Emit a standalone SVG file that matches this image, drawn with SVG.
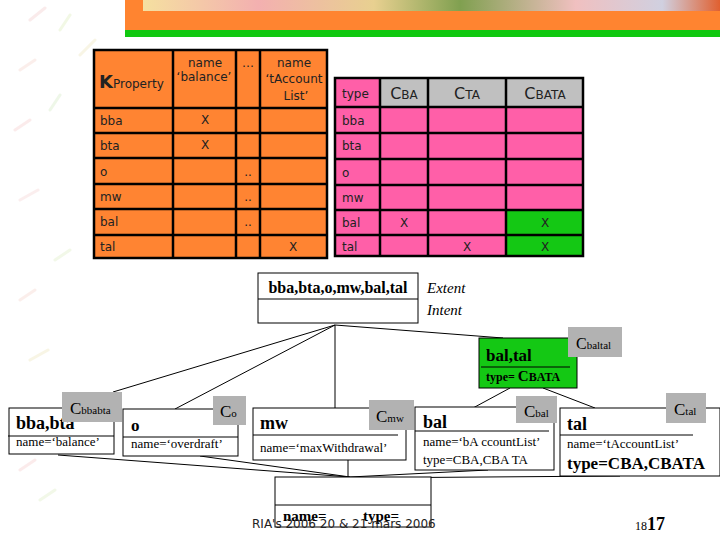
<svg xmlns="http://www.w3.org/2000/svg" width="720" height="540" viewBox="0 0 720 540">
<defs>
<linearGradient id="strip" x1="0" y1="0" x2="1" y2="0">
<stop offset="0" stop-color="#f5e0a0"/><stop offset="0.2" stop-color="#f3b0b0"/><stop offset="0.4" stop-color="#e8d090"/><stop offset="0.55" stop-color="#80a050"/><stop offset="0.75" stop-color="#f0c0c0"/><stop offset="0.9" stop-color="#d0d0e0"/><stop offset="1" stop-color="#e06030"/>
</linearGradient>
<style>
.tb{stroke:#000;stroke-width:2.5}
.or{fill:#ff8432}
.pk{fill:#ff5fa8}
.gn{fill:#14c814}
.gy{fill:#c0c0c0}
.t{font-family:"DejaVu Sans",Verdana,sans-serif;font-size:12px;fill:#222}
.tc{text-anchor:middle}
.n{fill:#fff;stroke:#000;stroke-width:1}
.lb{fill:#b2b2b2}
.s{font-family:"Liberation Serif","Times New Roman",serif;fill:#000}
.b{font-weight:bold}
.ln{stroke:#000;stroke-width:1;fill:none}
.dec{stroke-width:3;stroke-linecap:round;opacity:0.2}
</style>
</defs>
<rect width="720" height="540" fill="#fff"/>
<g id="decor">
<line class="dec" x1="30" y1="20" x2="45" y2="8" stroke="#e8a0a0"/>
<line class="dec" x1="60" y1="30" x2="70" y2="15" stroke="#c0e080"/>
<line class="dec" x1="20" y1="70" x2="35" y2="60" stroke="#f0b0a0"/>
<line class="dec" x1="80" y1="55" x2="95" y2="40" stroke="#e0d080"/>
<line class="dec" x1="15" y1="130" x2="30" y2="120" stroke="#f0a0a0"/>
<line class="dec" x1="50" y1="110" x2="60" y2="95" stroke="#b0d890"/>
<line class="dec" x1="20" y1="200" x2="38" y2="190" stroke="#f0b0b0"/>
<line class="dec" x1="55" y1="260" x2="70" y2="250" stroke="#c0e090"/>
<line class="dec" x1="20" y1="300" x2="35" y2="290" stroke="#f0b0a0"/>
<line class="dec" x1="30" y1="360" x2="48" y2="350" stroke="#e0d080"/>
<line class="dec" x1="20" y1="470" x2="35" y2="460" stroke="#f0a0a0"/>
<line class="dec" x1="40" y1="500" x2="55" y2="490" stroke="#c0e090"/>
</g>
<g id="banner">
<rect x="125" y="0" width="595" height="30" fill="#ff8430"/>
<rect x="143" y="0" width="577" height="11" fill="url(#strip)"/>
<rect x="125" y="30" width="595" height="7" fill="#10c810"/>
</g>
<g id="table-property">
<rect class="or" x="94" y="50" width="233" height="208"/>
<g class="tb">
<rect x="94" y="50" width="233" height="208" fill="none"/>
<line x1="173" y1="50" x2="173" y2="258"/>
<line x1="236" y1="50" x2="236" y2="258"/>
<line x1="260" y1="50" x2="260" y2="258"/>
<line x1="94" y1="108" x2="327" y2="108"/>
<line x1="94" y1="133" x2="327" y2="133"/>
<line x1="94" y1="158" x2="327" y2="158"/>
<line x1="94" y1="184" x2="327" y2="184"/>
<line x1="94" y1="209" x2="327" y2="209"/>
<line x1="94" y1="235" x2="327" y2="235"/>
</g>
<text class="t" x="99" y="88" font-size="13"><tspan font-size="18" font-weight="bold">K</tspan>Property</text>
<text class="t tc" x="205" y="67">name</text>
<text class="t tc" x="204" y="81">‘balance’</text>
<text class="t tc" x="248" y="67">…</text>
<text class="t tc" x="294" y="67">name</text>
<text class="t tc" x="294" y="83">‘tAccount</text>
<text class="t tc" x="296" y="100">List’</text>
<text class="t" x="100" y="125">bba</text>
<text class="t" x="100" y="150">bta</text>
<text class="t" x="100" y="176">o</text>
<text class="t" x="100" y="201">mw</text>
<text class="t" x="100" y="226">bal</text>
<text class="t" x="100" y="251">tal</text>
<text class="t tc" x="205" y="124">X</text>
<text class="t tc" x="205" y="149">X</text>
<text class="t tc" x="248" y="176">..</text>
<text class="t tc" x="248" y="201">..</text>
<text class="t tc" x="248" y="226">..</text>
<text class="t tc" x="293" y="251">X</text>
</g>
<g id="table-type">
<rect class="pk" x="335" y="78" width="248" height="178"/>
<rect class="gy" x="380" y="78" width="203" height="29"/>
<rect class="gn" x="506" y="210" width="77" height="46"/>
<g class="tb">
<rect x="335" y="78" width="248" height="178" fill="none"/>
<line x1="380" y1="78" x2="380" y2="256"/>
<line x1="428" y1="78" x2="428" y2="256"/>
<line x1="506" y1="78" x2="506" y2="256"/>
<line x1="335" y1="107" x2="583" y2="107"/>
<line x1="335" y1="133" x2="583" y2="133"/>
<line x1="335" y1="159" x2="583" y2="159"/>
<line x1="335" y1="185" x2="583" y2="185"/>
<line x1="335" y1="210" x2="583" y2="210"/>
<line x1="335" y1="235" x2="583" y2="235"/>
</g>
<text class="t" x="342" y="98">type</text>
<text class="t tc" x="404" y="99"><tspan font-size="16">C</tspan>BA</text>
<text class="t tc" x="467" y="99"><tspan font-size="16">C</tspan>TA</text>
<text class="t tc" x="545" y="99"><tspan font-size="16">C</tspan>BATA</text>
<text class="t" x="342" y="125">bba</text>
<text class="t" x="342" y="150">bta</text>
<text class="t" x="342" y="177">o</text>
<text class="t" x="342" y="202">mw</text>
<text class="t" x="342" y="227">bal</text>
<text class="t" x="342" y="251">tal</text>
<text class="t tc" x="404" y="227">X</text>
<text class="t tc" x="545" y="227">X</text>
<text class="t tc" x="467" y="251">X</text>
<text class="t tc" x="545" y="251">X</text>
</g>
<g id="connectors">
<line class="ln" x1="335" y1="325" x2="113" y2="392"/>
<line class="ln" x1="335" y1="325" x2="175" y2="409"/>
<line class="ln" x1="335" y1="325" x2="335" y2="408"/>
<line class="ln" x1="335" y1="325" x2="503" y2="338"/>
<line class="ln" x1="510" y1="388" x2="473" y2="408"/>
<line class="ln" x1="543" y1="388" x2="595" y2="408"/>
<line class="ln" x1="58" y1="455" x2="350" y2="477"/>
<line class="ln" x1="200" y1="456" x2="350" y2="477"/>
<line class="ln" x1="348" y1="460" x2="348" y2="477"/>
<line class="ln" x1="488" y1="470" x2="350" y2="477"/>
<line class="ln" x1="620" y1="476" x2="350" y2="478"/>
</g>
<g id="node-top">
<rect class="n" x="258" y="273" width="160" height="50"/>
<line class="ln" x1="258" y1="299" x2="418" y2="299"/>
<text class="s b tc" x="338" y="293" font-size="16">bba,bta,o,mw,bal,tal</text>
<text class="s" x="427" y="293" font-size="15" font-style="italic">Extent</text>
<text class="s" x="427" y="315" font-size="15" font-style="italic">Intent</text>
</g>
<g id="node-baltal">
<rect x="479" y="338" width="98" height="50" fill="#14c814" stroke="#000" stroke-width="1"/>
<line class="ln" x1="481" y1="367" x2="570" y2="367"/>
<text class="s b" x="486" y="361" font-size="17">bal,tal</text>
<text class="s b" x="486" y="381" font-size="12">type= <tspan font-size="15">C</tspan>BATA</text>
<rect class="lb" x="568" y="327" width="54" height="30"/>
<text class="s" x="576" y="349" font-size="16">C<tspan font-size="11">baltal</tspan></text>
</g>
<g id="node-bbabta">
<rect class="n" x="9" y="408" width="105" height="46"/>
<line class="ln" x1="8" y1="436" x2="114" y2="436"/>
<text class="s b" x="16" y="429" font-size="18">bba,bta</text>
<text class="s" x="16" y="446" font-size="13">name=‘balance’</text>
<rect class="lb" x="62" y="392" width="60" height="30"/>
<text class="s" x="70" y="414" font-size="17">C<tspan font-size="11">bbabta</tspan></text>
</g>
<g id="node-o">
<rect class="n" x="123" y="409" width="115" height="47"/>
<line class="ln" x1="123" y1="437" x2="238" y2="437"/>
<text class="s b" x="131" y="431" font-size="17">o</text>
<text class="s" x="131" y="448" font-size="13">name=‘overdraft’</text>
<rect class="lb" x="213" y="396" width="33" height="29"/>
<text class="s" x="220" y="417" font-size="17">C<tspan font-size="11">o</tspan></text>
</g>
<g id="node-mw">
<rect class="n" x="253" y="408" width="153" height="52"/>
<line class="ln" x1="253" y1="435" x2="398" y2="435"/>
<text class="s b" x="260" y="429" font-size="18">mw</text>
<text class="s" x="260" y="452" font-size="13">name=‘maxWithdrawal’</text>
<rect class="lb" x="369" y="400" width="45" height="30"/>
<text class="s" x="376" y="422" font-size="17">C<tspan font-size="11">mw</tspan></text>
</g>
<g id="node-bal">
<rect class="n" x="415" y="407" width="139" height="63"/>
<line class="ln" x1="415" y1="431" x2="549" y2="431"/>
<text class="s b" x="423" y="428" font-size="18">bal</text>
<text class="s" x="423" y="446" font-size="13">name=‘bA ccountList’</text>
<text class="s" x="423" y="464" font-size="13">type=CBA,CBA TA</text>
<rect class="lb" x="516" y="396" width="41" height="27"/>
<text class="s" x="524" y="417" font-size="17">C<tspan font-size="11">bal</tspan></text>
</g>
<g id="node-tal">
<rect class="n" x="560" y="408" width="160" height="68"/>
<line class="ln" x1="560" y1="435" x2="693" y2="435"/>
<text class="s b" x="567" y="430" font-size="18">tal</text>
<text class="s" x="567" y="448" font-size="13">name=‘tAccountList’</text>
<text class="s b" x="567" y="469" font-size="17">type=CBA,CBATA</text>
<rect class="lb" x="666" y="393" width="40" height="30"/>
<text class="s" x="674" y="415" font-size="17">C<tspan font-size="11">tal</tspan></text>
</g>
<g id="node-bottom">
<rect class="n" x="275" y="477" width="156" height="50"/>
<line class="ln" x1="275" y1="505" x2="431" y2="505"/>
<text class="s b" x="283" y="521" font-size="15">name=</text>
<text class="s b" x="363" y="521" font-size="15">type=</text>
</g>
<g id="footer">
<text x="252" y="528" font-family="DejaVu Sans, Verdana, sans-serif" font-size="12" fill="#222">RIA's 2006 20 &amp; 21 mars 2006</text>
<text x="635" y="530" font-family="Liberation Serif, serif" fill="#000"><tspan font-size="12">18</tspan><tspan font-size="18" font-weight="bold">17</tspan></text>
</g>
</svg>
